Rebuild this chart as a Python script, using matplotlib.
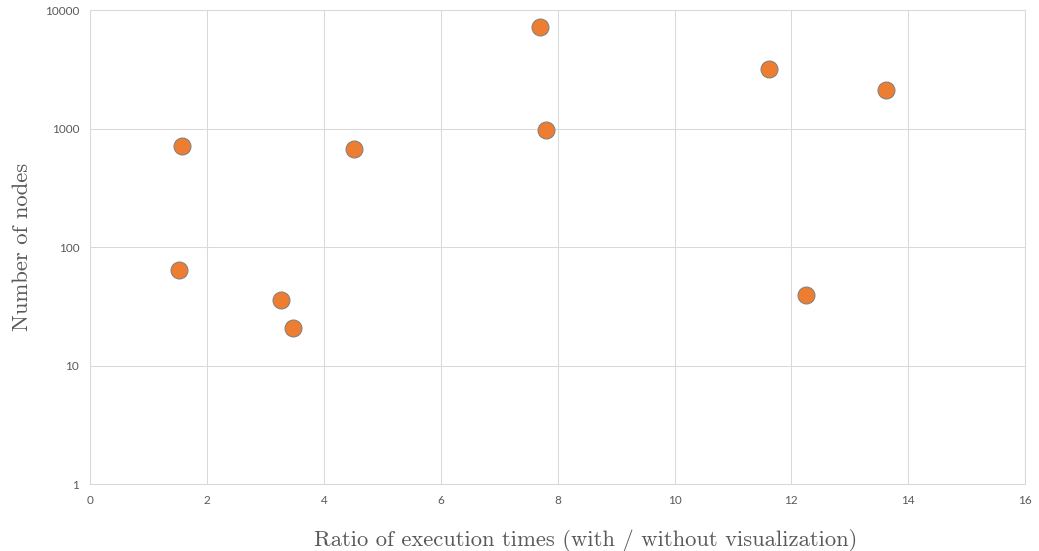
import numpy as np
import matplotlib.pyplot as plt
from matplotlib.ticker import FixedLocator, FixedFormatter

# Ratio of execution times vs number of nodes
ratio = [1.56, 1.51, 3.27, 3.47, 4.52, 7.70, 7.80, 11.62, 12.25, 13.62]
nodes = [716, 65, 36, 21, 675, 7200, 980, 3190, 40, 2120]

xticks = [0, 2, 4, 6, 8, 10, 12, 14, 16]
yticks = [1, 10, 100, 1000, 10000]

grid_col = "#d9d9d9"
text_col = "#595959"

fig = plt.figure(figsize=(10.39, 5.51), dpi=100)
ax = fig.add_axes([0.0870, 0.121, 0.8995, 0.860])

ax.scatter(ratio, nodes, s=150, color="#ed7d31", edgecolors="#7f7f7f",
           linewidths=0.7, zorder=3)

ax.set_yscale("log")
ax.set_xlim(0, 16)
ax.set_ylim(1, 10000)
ax.xaxis.set_major_locator(FixedLocator(xticks))
ax.yaxis.set_major_locator(FixedLocator(yticks))
ax.yaxis.set_major_formatter(FixedFormatter([str(v) for v in yticks]))
ax.yaxis.set_minor_locator(FixedLocator([]))

ax.grid(True, color=grid_col, linewidth=0.75, zorder=0)
for sp in ax.spines.values():
    sp.set_color(grid_col)
    sp.set_linewidth(0.75)
ax.tick_params(length=0, labelsize=8.5, labelcolor=text_col, pad=8)
for lbl in ax.get_xticklabels() + ax.get_yticklabels():
    lbl.set_family("Lato")

ax.set_xlabel("Ratio of execution times (with / without visualization)",
              family="cmr10", fontsize=16.3, color=text_col, labelpad=16)
ax.xaxis.label.set_x(0.53)
ax.set_ylabel("Number of nodes", family="cmr10", fontsize=16.3,
              color=text_col, labelpad=9)

fig.savefig("out.png", dpi=100)
